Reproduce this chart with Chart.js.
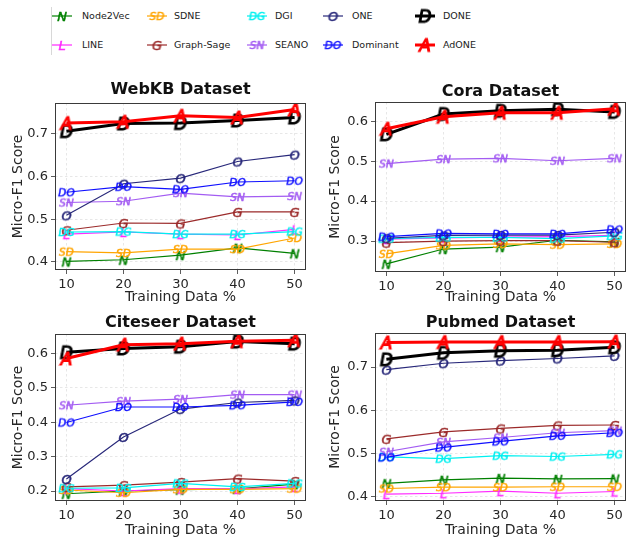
<!DOCTYPE html>
<html>
<head>
<meta charset="utf-8">
<script src="https://cdn.jsdelivr.net/npm/chart.js@4/dist/chart.umd.min.js"></script>
<style>
html, body { margin: 0; padding: 0; background: #fff; }
body { width: 630px; height: 540px; overflow: hidden; position: relative; font-family: "DejaVu Sans", sans-serif; }
.panel { position: absolute; }
.lg-text { position: absolute; font-size: 9.5px; color: #222; white-space: nowrap; line-height: 12px; }
.lg-sym { position: absolute; }
#lg-frame { position: absolute; left: 51px; top: 7px; width: 1px; height: 48px; background: #d8d8d8; }
</style>
</head>
<body>
<div id="lg-frame"></div>
<div id="legend"></div>
<div class="panel" style="left:0;top:75px;width:315px;height:235px"><canvas id="c0"></canvas></div>
<div class="panel" style="left:315px;top:75px;width:320px;height:235px"><canvas id="c1"></canvas></div>
<div class="panel" style="left:0;top:305px;width:315px;height:235px"><canvas id="c2"></canvas></div>
<div class="panel" style="left:315px;top:305px;width:320px;height:235px"><canvas id="c3"></canvas></div>
<script>
const trainPct = [10, 20, 30, 40, 50];
const methods = ['Node2Vec', 'LINE', 'SDNE', 'Graph-Sage', 'DGI', 'SEANO', 'ONE', 'Dominant', 'DONE', 'AdONE'];
const markers = ['N', 'L', 'SD', 'G', 'DG', 'SN', 'O', 'DO', 'D', 'A'];
const colors = ['#008000', '#ff2bff', '#ffa500', '#9b2a2a', '#00f0f0', '#a35cf2', '#28287a', '#1010ff', '#000000', '#ff0000'];

// rows follow the order of `methods`
const webkbScores = [
  [0.401, 0.405, 0.416, 0.433, 0.420],
  [0.465, 0.470, 0.465, 0.463, 0.476],
  [0.424, 0.421, 0.430, 0.430, 0.456],
  [0.474, 0.491, 0.490, 0.517, 0.517],
  [0.470, 0.471, 0.465, 0.465, 0.471],
  [0.539, 0.542, 0.561, 0.552, 0.554],
  [0.509, 0.583, 0.596, 0.635, 0.651],
  [0.563, 0.576, 0.570, 0.587, 0.590],
  [0.706, 0.724, 0.725, 0.731, 0.738],
  [0.725, 0.728, 0.742, 0.738, 0.757]
];
const coraScores = [
  [0.243, 0.280, 0.285, 0.302, 0.298],
  [0.305, 0.308, 0.310, 0.311, 0.314],
  [0.268, 0.289, 0.293, 0.291, 0.293],
  [0.296, 0.300, 0.301, 0.301, 0.297],
  [0.306, 0.309, 0.309, 0.306, 0.313],
  [0.494, 0.505, 0.507, 0.501, 0.507],
  [0.307, 0.314, 0.315, 0.315, 0.322],
  [0.311, 0.319, 0.318, 0.318, 0.329],
  [0.567, 0.618, 0.626, 0.630, 0.623],
  [0.581, 0.611, 0.621, 0.621, 0.631]
];
const citeseerScores = [
  [0.192, 0.200, 0.204, 0.206, 0.220],
  [0.207, 0.200, 0.207, 0.206, 0.212],
  [0.203, 0.195, 0.205, 0.205, 0.207],
  [0.212, 0.217, 0.226, 0.236, 0.229],
  [0.208, 0.209, 0.222, 0.212, 0.222],
  [0.449, 0.461, 0.467, 0.480, 0.480],
  [0.235, 0.357, 0.438, 0.457, 0.463],
  [0.399, 0.444, 0.444, 0.449, 0.459],
  [0.603, 0.614, 0.619, 0.634, 0.628],
  [0.585, 0.625, 0.628, 0.635, 0.638]
];
const pubmedScores = [
  [0.431, 0.439, 0.443, 0.441, 0.442],
  [0.406, 0.408, 0.413, 0.408, 0.412],
  [0.419, 0.422, 0.422, 0.423, 0.423],
  [0.534, 0.550, 0.558, 0.565, 0.566],
  [0.492, 0.488, 0.495, 0.493, 0.498],
  [0.504, 0.527, 0.537, 0.548, 0.553],
  [0.694, 0.709, 0.715, 0.720, 0.726],
  [0.491, 0.514, 0.528, 0.541, 0.548],
  [0.718, 0.733, 0.738, 0.739, 0.746],
  [0.757, 0.758, 0.758, 0.758, 0.759]
];

const xTicks = [10, 20, 30, 40, 50];
const webkbTicks = [0.4, 0.5, 0.6, 0.7];
const coraTicks = [0.3, 0.4, 0.5, 0.6];
const citeseerTicks = [0.2, 0.3, 0.4, 0.5, 0.6];
const pubmedTicks = [0.4, 0.5, 0.6, 0.7];

Chart.defaults.font.family = '"DejaVu Sans", sans-serif';
Chart.defaults.color = '#262626';

// italic letter markers, like matplotlib's $N$ style markers
function glyph(txt, color, big) {
  const px = big ? 17 : (txt.length > 1 ? 10.5 : 13);
  const c = document.createElement('canvas');
  const g = c.getContext('2d');
  const font = 'italic ' + px + 'px "DejaVu Sans"';
  g.font = font;
  const w = Math.ceil(g.measureText(txt).width) + 4;
  const h = Math.ceil(px * 0.75) + 4;
  c.width = w; c.height = h;
  g.font = font;
  g.fillStyle = color;
  g.strokeStyle = color;
  g.lineWidth = big ? 1.1 : 0.5;
  g.textAlign = 'center';
  g.textBaseline = 'alphabetic';
  const base = h / 2 + px * 0.365;
  g.fillText(txt, w / 2, base);
  g.strokeText(txt, w / 2, base);
  return c;
}

const glyphs = markers.map((m, k) => glyph(m, colors[k], k >= 8));

// legend
const legendCols = [[62, 82], [157, 174], [257, 275], [333, 352], [425, 443]];
const legendRows = [16, 45];
const legend = document.getElementById('legend');
methods.forEach((name, k) => {
  const col = legendCols[Math.floor(k / 2)];
  const rowY = legendRows[k % 2];
  const sym = document.createElement('canvas');
  sym.width = 26; sym.height = 22;
  sym.className = 'lg-sym';
  sym.style.left = (col[0] - 13) + 'px';
  sym.style.top = (rowY - 11) + 'px';
  const g = sym.getContext('2d');
  g.strokeStyle = colors[k];
  g.lineWidth = k >= 8 ? 3 : 1.2;
  g.beginPath(); g.moveTo(3, 11); g.lineTo(23, 11); g.stroke();
  const im = glyphs[k];
  g.drawImage(im, 13 - im.width / 2, 11 - im.height / 2);
  legend.appendChild(sym);
  const t = document.createElement('div');
  t.className = 'lg-text';
  t.textContent = name;
  t.style.left = col[1] + 'px';
  t.style.top = (rowY - 6) + 'px';
  legend.appendChild(t);
});

const framePlugin = {
  id: 'frame',
  afterDraw(chart, args, opts) {
    const a = chart.chartArea, ctx = chart.ctx;
    ctx.save();
    ctx.strokeStyle = '#3a3a3a';
    ctx.lineWidth = 1;
    ctx.strokeRect(Math.round(a.left) + 0.5, Math.round(a.top) + 0.5,
      Math.round(a.right - a.left) - 1, Math.round(a.bottom - a.top) - 1);
    ctx.fillStyle = '#111';
    ctx.font = 'bold 16px "DejaVu Sans"';
    ctx.textAlign = 'center';
    ctx.textBaseline = 'middle';
    ctx.fillText(opts.text, (a.left + a.right) / 2, a.top - opts.gap);
    ctx.restore();
  }
};

function panel(id, title, scores, yMin, yMax, yTicks, box) {
  const datasets = methods.map((name, k) => ({
    label: name,
    data: trainPct.map((x, i) => ({ x: x, y: scores[k][i] })),
    borderColor: colors[k],
    backgroundColor: colors[k],
    borderWidth: k >= 8 ? 3 : 1.2,
    pointStyle: glyphs[k],
    pointRadius: 6,
    tension: 0,
    order: methods.length - 1 - k
  }));
  new Chart(document.getElementById(id), {
    type: 'line',
    data: { datasets: datasets },
    plugins: [framePlugin],
    options: {
      responsive: true,
      maintainAspectRatio: false,
      animation: false,
      events: [],
      layout: { padding: { top: box.padTop, right: box.padRight, left: 0, bottom: 0 } },
      plugins: {
        legend: { display: false },
        tooltip: { enabled: false },
        frame: { text: title, gap: box.titleGap }
      },
      scales: {
        x: {
          type: 'linear', min: 8, max: 52,
          afterBuildTicks: s => { s.ticks = xTicks.map(v => ({ value: v })); },
          afterFit: s => { s.height = box.xHeight; },
          ticks: { font: { size: 13 }, padding: 3, maxRotation: 0, callback: v => String(v) },
          grid: { color: 'rgba(0,0,0,0.12)', lineWidth: 0.8, tickColor: '#333', tickLength: 4 },
          border: { display: false, dash: [2.5, 2.5] },
          title: { display: true, text: 'Training Data %', font: { size: 14 }, padding: { top: 0, bottom: box.xTitlePad } }
        },
        y: {
          min: yMin, max: yMax,
          afterBuildTicks: s => { s.ticks = yTicks.map(v => ({ value: v })); },
          afterFit: s => { s.width = box.yWidth; },
          ticks: { font: { size: 13 }, padding: 3, callback: v => v.toFixed(1) },
          grid: { color: 'rgba(0,0,0,0.12)', lineWidth: 0.8, tickColor: '#333', tickLength: 4 },
          border: { display: false, dash: [2.5, 2.5] },
          title: { display: true, text: 'Micro-F1 Score', font: { size: 14 }, padding: { top: box.yTitlePad, bottom: 0 } }
        }
      }
    }
  });
}

panel('c0', 'WebKB Dataset', webkbScores, 0.381, 0.772, webkbTicks,
  { padTop: 28, padRight: 3, yWidth: 55, xHeight: 40, xTitlePad: 4, yTitlePad: 9.6, titleGap: 13 });
panel('c1', 'Cora Dataset', coraScores, 0.2225, 0.648, coraTicks,
  { padTop: 27, padRight: 3, yWidth: 60, xHeight: 38, xTitlePad: 4, yTitlePad: 11.6, titleGap: 10 });
panel('c2', 'Citeseer Dataset', citeseerScores, 0.171, 0.656, citeseerTicks,
  { padTop: 29, padRight: 3, yWidth: 55, xHeight: 39, xTitlePad: 1, yTitlePad: 9.6, titleGap: 11 });
panel('c3', 'Pubmed Dataset', pubmedScores, 0.390, 0.779, pubmedTicks,
  { padTop: 28, padRight: 3, yWidth: 60, xHeight: 39, xTitlePad: 1, yTitlePad: 11.6, titleGap: 10 });
</script>
</body>
</html>
